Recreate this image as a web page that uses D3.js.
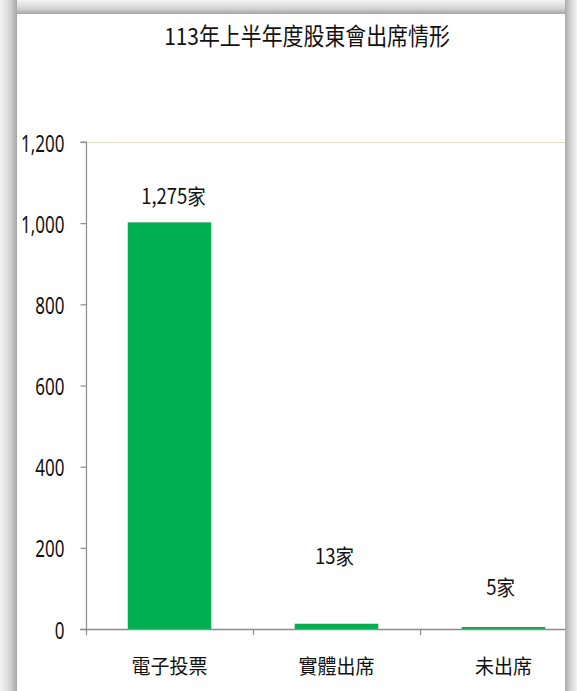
<!DOCTYPE html>
<html>
<head>
<meta charset="utf-8">
<script src="https://cdn.jsdelivr.net/npm/d3@7"></script>
<style>
  html, body { margin: 0; padding: 0; background: #ffffff; }
  svg { display: block; }
  text { font-family: "Noto Sans CJK TC", "Noto Sans", sans-serif; fill: #111111; }
</style>
</head>
<body>
<svg id="chart" width="577" height="691"></svg>
<script>
// ---- data ----
const title = "113年上半年度股東會出席情形";
const categories = ["電子投票", "實體出席", "未出席"];
const values = [1002, 13, 5];
const valueLabels = ["1,275家", "13家", "5家"];
const yTicks = [0, 200, 400, 600, 800, 1000, 1200];

// ---- layout ----
const W = 577, H = 691;
const svg = d3.select("#chart");

const defs = svg.append("defs");
defs.append("clipPath").attr("id", "panel")
  .append("rect").attr("x", 17).attr("y", 14).attr("width", 548).attr("height", H - 14);

const y = d3.scaleLinear().domain([0, 1200]).range([629, 142]);
const x = d3.scaleBand().domain(categories).range([86, 587]).paddingInner(0.5).paddingOuter(0.25);

// place a text at (px,py) horizontally condensed by sx
function placeCondensed(sel, px, py, sx) {
  sel.attr("x", 0).attr("y", 0)
     .attr("transform", (d, i) => `translate(${typeof px === "function" ? px(d, i) : px},${typeof py === "function" ? py(d, i) : py}) scale(${sx},1)`);
}

const g = svg.append("g").attr("clip-path", "url(#panel)");

g.append("rect").attr("x", 17).attr("y", 14).attr("width", 548).attr("height", H - 14).attr("fill", "#ffffff");

// top gridline
g.append("line")
  .attr("x1", 86).attr("x2", 587)
  .attr("y1", y(1200) + 0.5).attr("y2", y(1200) + 0.5)
  .attr("stroke", "#e2dfc4").attr("stroke-width", 1.2);

// bars
g.selectAll("rect.bar").data(values).join("rect")
  .attr("class", "bar")
  .attr("x", (d, i) => x(categories[i]))
  .attr("width", x.bandwidth())
  .attr("y", d => y(d))
  .attr("height", d => y(0) - y(d))
  .attr("fill", "#00b050");

// y axis
const yAxis = d3.axisLeft(y).tickValues(yTicks).tickSize(6).tickPadding(16).tickFormat(d3.format(","));
const ya = g.append("g").attr("transform", "translate(86.5,0)").call(yAxis);
ya.select(".domain").attr("stroke", "#8c8c8c").attr("stroke-width", 1.2).attr("d", `M-6,${y(1200)}H0V${y(0)}`);
ya.selectAll(".tick line").attr("stroke", "#8c8c8c").attr("stroke-width", 1.2);
ya.selectAll(".tick text")
  .attr("font-size", 23).attr("fill", "#111111").attr("dy", null)
  .style("font-family", '"Noto Sans", "Noto Sans CJK TC", sans-serif')
  .attr("dominant-baseline", "central")
  .call(s => placeCondensed(s, -22, 0, 0.74));

// x axis
const step = x.step();
const boundaries = d3.range(categories.length + 1).map(i => 86 + i * step);
g.append("line").attr("x1", 80).attr("x2", 587).attr("y1", y(0) + 0.5).attr("y2", y(0) + 0.5)
  .attr("stroke", "#8c8c8c").attr("stroke-width", 1.4);
g.selectAll("line.xtick").data(boundaries).join("line")
  .attr("class", "xtick")
  .attr("x1", d => d + 0.5).attr("x2", d => d + 0.5)
  .attr("y1", y(0)).attr("y2", y(0) + 6)
  .attr("stroke", "#8c8c8c").attr("stroke-width", 1.2);
g.selectAll("text.xlab").data(categories).join("text")
  .attr("class", "xlab")
  .attr("text-anchor", "middle")
  .attr("font-size", 20)
  .text(d => d)
  .call(s => placeCondensed(s, d => x(d) + x.bandwidth() / 2, 674, 0.95));

// value labels (placed as in the original)
const labelDx = [4, -2, -3];
const labelY = [204, 564, 595];
g.selectAll("text.vlab").data(valueLabels).join("text")
  .attr("class", "vlab")
  .attr("text-anchor", "middle")
  .attr("font-size", 21)
  .text(d => d)
  .call(s => placeCondensed(s, (d, i) => x(categories[i]) + x.bandwidth() / 2 + labelDx[i], (d, i) => labelY[i], 0.88));

// title
g.append("text")
  .attr("text-anchor", "middle")
  .attr("font-size", 23.5)
  .text(title)
  .call(s => placeCondensed(s, 307, 45, 0.89));

// frame (shadowed border)
const gl = defs.append("linearGradient").attr("id", "gLeft").attr("x1", 0).attr("x2", 1).attr("y1", 0).attr("y2", 0);
gl.append("stop").attr("offset", "0%").attr("stop-color", "#f3f3f3");
gl.append("stop").attr("offset", "60%").attr("stop-color", "#d4d4d4");
gl.append("stop").attr("offset", "100%").attr("stop-color", "#a6a6a6");
const gt = defs.append("linearGradient").attr("id", "gTop").attr("x1", 0).attr("x2", 0).attr("y1", 0).attr("y2", 1);
gt.append("stop").attr("offset", "0%").attr("stop-color", "#f3f3f3");
gt.append("stop").attr("offset", "60%").attr("stop-color", "#d4d4d4");
gt.append("stop").attr("offset", "100%").attr("stop-color", "#a6a6a6");
const gr = defs.append("linearGradient").attr("id", "gRight").attr("x1", 0).attr("x2", 1).attr("y1", 0).attr("y2", 0);
gr.append("stop").attr("offset", "0%").attr("stop-color", "#a9a9a9");
gr.append("stop").attr("offset", "40%").attr("stop-color", "#cfcfcf");
gr.append("stop").attr("offset", "100%").attr("stop-color", "#f3f3f3");

svg.append("rect").attr("x", 0).attr("y", 0).attr("width", 17).attr("height", H).attr("fill", "url(#gLeft)");
svg.append("rect").attr("x", 17).attr("y", 0).attr("width", 548).attr("height", 14).attr("fill", "url(#gTop)");
svg.append("rect").attr("x", 565).attr("y", 0).attr("width", 12).attr("height", H).attr("fill", "url(#gRight)");
</script>
</body>
</html>
